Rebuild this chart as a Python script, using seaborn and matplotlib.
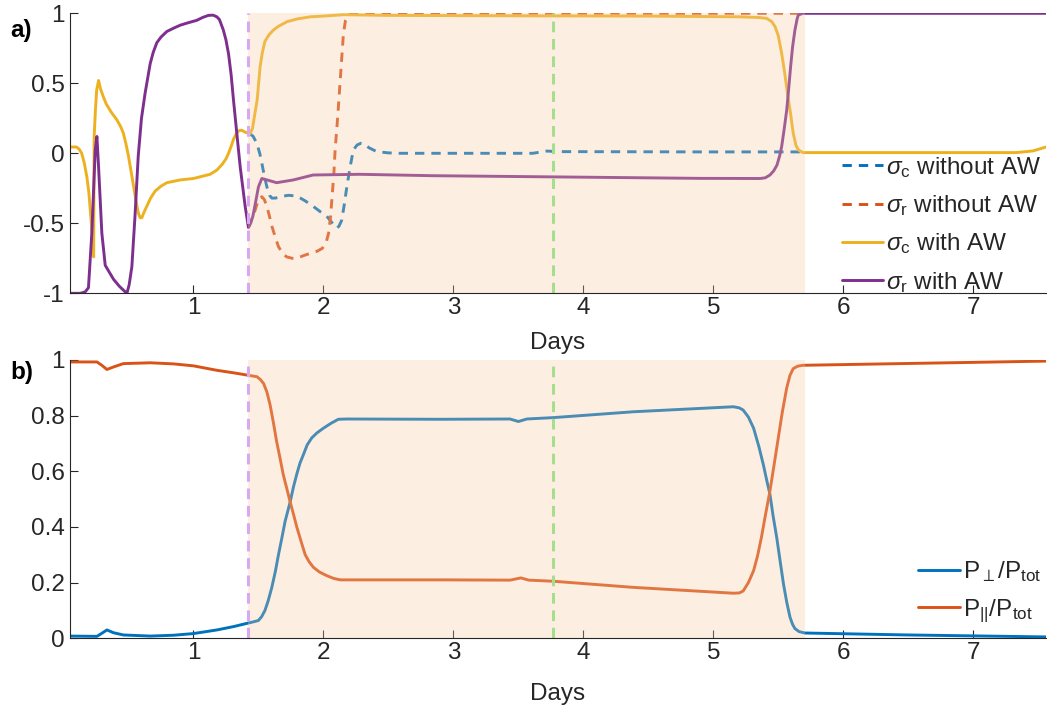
import matplotlib
matplotlib.use("Agg")
import matplotlib.pyplot as plt
import seaborn as sns

# ---------------- data ----------------
# panel a) sigma_c without AW (blue dashed)
sc_noaw_x = [1.436, 1.46, 1.488, 1.51, 1.526, 1.545, 1.565, 1.585, 1.603, 1.63, 1.667, 1.73, 1.795,
             1.86, 1.923, 1.98, 2.026, 2.07, 2.103, 2.12, 2.14, 2.16, 2.18, 2.205, 2.23, 2.26,
             2.29, 2.31, 2.35, 2.41, 2.5, 2.59, 3.61, 3.72, 3.8, 4.9, 5.705]
sc_noaw_y = [0.14, 0.12, 0.07, 0.0, -0.07, -0.16, -0.24, -0.3, -0.32, -0.32, -0.31, -0.3, -0.305,
             -0.34, -0.38, -0.42, -0.45, -0.5, -0.535, -0.52, -0.48, -0.37, -0.24, -0.1, 0.024, 0.06,
             0.072, 0.07, 0.04, 0.012, 0.003, 0.0, 0.0, 0.016, 0.012, 0.01, 0.01]
# sigma_r without AW (orange dashed)
sr_noaw_x = [1.423, 1.45, 1.475, 1.5, 1.526, 1.545, 1.565, 1.585, 1.603, 1.63, 1.654, 1.69, 1.718,
             1.76, 1.795, 1.85, 1.9, 1.95, 1.99, 2.02, 2.04, 2.055, 2.065, 2.08, 2.09, 2.105, 2.115,
             2.135, 2.154, 2.17, 2.19, 2.24, 5.69]
sr_noaw_y = [-0.53, -0.46, -0.405, -0.33, -0.31, -0.33, -0.38, -0.45, -0.52, -0.6, -0.667, -0.72,
             -0.74, -0.75, -0.75, -0.73, -0.714, -0.7, -0.68, -0.64, -0.57, -0.45, -0.33, -0.15,
             0.024, 0.2, 0.33, 0.6, 0.857, 0.95, 0.99, 1.0, 1.0]
# sigma_c with AW (yellow)
sc_aw_x = [0.05, 0.1, 0.12, 0.14, 0.16, 0.18, 0.195, 0.21, 0.225, 0.232, 0.236, 0.245, 0.255, 0.27,
           0.285, 0.308, 0.33, 0.37, 0.41, 0.44, 0.46, 0.48, 0.5, 0.52, 0.54, 0.56, 0.577, 0.59,
           0.603, 0.62, 0.64, 0.67, 0.705, 0.75, 0.795, 0.9, 1.0, 1.128, 1.18, 1.22, 1.25, 1.27,
           1.29, 1.308, 1.33, 1.346, 1.37, 1.4, 1.436, 1.455, 1.47, 1.49, 1.513, 1.53, 1.55, 1.58,
           1.615, 1.65, 1.72, 1.8, 1.9, 2.0, 2.154, 2.5, 3.5, 4.5, 5.2, 5.35, 5.41, 5.45, 5.475,
           5.5, 5.526, 5.55, 5.57, 5.595, 5.615, 5.635, 5.654, 5.69, 7.33, 7.46, 7.56]
sc_aw_y = [0.045, 0.045, 0.03, 0.0, -0.07, -0.17, -0.28, -0.45, -0.62, -0.74, 0.12, 0.3, 0.45, 0.52,
           0.46, 0.4, 0.35, 0.29, 0.24, 0.19, 0.145, 0.07, -0.02, -0.13, -0.24, -0.35, -0.43, -0.46,
           -0.46, -0.42, -0.38, -0.32, -0.27, -0.235, -0.21, -0.19, -0.18, -0.15, -0.12, -0.08,
           -0.04, 0.0, 0.05, 0.1, 0.14, 0.16, 0.165, 0.15, 0.14, 0.18, 0.27, 0.38, 0.62, 0.72, 0.8,
           0.845, 0.88, 0.905, 0.94, 0.96, 0.975, 0.98, 0.99, 0.985, 0.982, 0.98, 0.975, 0.97, 0.964,
           0.94, 0.905, 0.84, 0.714, 0.57, 0.43, 0.28, 0.143, 0.06, 0.024, 0.005, 0.005, 0.017,
           0.045]
# sigma_r with AW (purple)
sr_aw_x = [0.05, 0.13, 0.167, 0.192, 0.218, 0.244, 0.257, 0.27, 0.295, 0.321, 0.385, 0.43, 0.475,
           0.488, 0.505, 0.526, 0.55, 0.575, 0.6, 0.628, 0.667, 0.69, 0.718, 0.75, 0.795, 0.85,
           0.898, 0.95, 1.026, 1.07, 1.115, 1.15, 1.18, 1.2, 1.23, 1.25, 1.27, 1.29, 1.308, 1.336,
           1.36, 1.398, 1.423, 1.44, 1.457, 1.48, 1.5, 1.526, 1.565, 1.64, 1.77, 1.92, 2.28, 2.84,
           3.61, 4.9, 5.36, 5.4, 5.436, 5.465, 5.49, 5.51, 5.526, 5.545, 5.565, 5.58, 5.595, 5.61,
           5.628, 5.645, 5.654, 5.69, 7.56]
sr_aw_y = [-1.0, -1.0, -0.99, -0.96, -0.57, 0.02, 0.12, -0.1, -0.57, -0.8, -0.9, -0.95, -0.99,
           -1.0, -0.94, -0.81, -0.45, -0.02, 0.25, 0.43, 0.64, 0.72, 0.79, 0.83, 0.87, 0.895, 0.915,
           0.93, 0.95, 0.97, 0.985, 0.987, 0.975, 0.955, 0.88, 0.81, 0.71, 0.56, 0.38, 0.12, -0.1,
           -0.38, -0.53, -0.5, -0.45, -0.34, -0.24, -0.18, -0.19, -0.21, -0.19, -0.155, -0.15,
           -0.16, -0.167, -0.179, -0.18, -0.175, -0.155, -0.125, -0.084, -0.02, 0.048, 0.17, 0.31,
           0.46, 0.62, 0.76, 0.88, 0.96, 0.988, 1.0, 1.0]

# panel b) P_perp / P_tot (blue)
pperp_x = [0.05, 0.257, 0.295, 0.334, 0.385, 0.46, 0.667, 0.847, 1.0, 1.18, 1.308, 1.423, 1.46,
           1.5, 1.525, 1.55, 1.575, 1.603, 1.63, 1.654, 1.68, 1.705, 1.744, 1.77, 1.795, 1.82,
           1.846, 1.875, 1.91, 1.95, 2.0, 2.06, 2.115, 2.18, 2.9, 3.436, 3.5, 3.565, 3.77, 4.385,
           5.154, 5.2, 5.23, 5.27, 5.31, 5.35, 5.385, 5.41, 5.436, 5.46, 5.488, 5.515, 5.54, 5.565,
           5.59, 5.61, 5.628, 5.66, 5.705, 6.5, 7.56]
pperp_y = [0.008, 0.007, 0.018, 0.03, 0.02, 0.012, 0.008, 0.011, 0.017, 0.03, 0.042, 0.055, 0.059,
           0.064, 0.078, 0.1, 0.135, 0.183, 0.24, 0.3, 0.36, 0.42, 0.49, 0.545, 0.59, 0.63, 0.66,
           0.695, 0.72, 0.738, 0.755, 0.773, 0.787, 0.788, 0.787, 0.788, 0.779, 0.788, 0.793,
           0.814, 0.832, 0.828, 0.82, 0.795, 0.755, 0.69, 0.624, 0.57, 0.517, 0.44, 0.362, 0.275,
           0.195, 0.13, 0.076, 0.05, 0.035, 0.024, 0.019, 0.012, 0.005]
# P_par / P_tot (orange)
ppar_x = [0.05, 0.257, 0.295, 0.334, 0.385, 0.46, 0.667, 0.847, 1.0, 1.18, 1.308, 1.423, 1.488,
          1.515, 1.54, 1.565, 1.59, 1.615, 1.64, 1.665, 1.69, 1.717, 1.744, 1.77, 1.795, 1.83,
          1.86, 1.89, 1.923, 1.97, 2.026, 2.08, 2.13, 2.9, 3.436, 3.52, 3.58, 3.77, 4.385, 5.154,
          5.2, 5.23, 5.27, 5.31, 5.34, 5.37, 5.4, 5.436, 5.47, 5.5, 5.53, 5.565, 5.59, 5.615, 5.65,
          5.69, 7.56]
ppar_y = [0.993, 0.993, 0.981, 0.966, 0.975, 0.987, 0.99, 0.986, 0.979, 0.963, 0.954, 0.945, 0.94,
          0.93, 0.915, 0.885, 0.838, 0.775, 0.707, 0.65, 0.59, 0.54, 0.49, 0.445, 0.4, 0.345, 0.3,
          0.275, 0.255, 0.238, 0.225, 0.215, 0.21, 0.21, 0.209, 0.217, 0.209, 0.205, 0.183, 0.162,
          0.163, 0.17, 0.2, 0.243, 0.295, 0.362, 0.44, 0.53, 0.63, 0.72, 0.81, 0.9, 0.945, 0.969,
          0.978, 0.981, 0.996]

# event markers
shade_start, shade_end = 1.423, 5.705
vline_purple = 1.423
vline_green = 3.767
x_limits = (0.05, 7.56)

labels_a = [r"$\sigma_\mathrm{c}$ without AW", r"$\sigma_\mathrm{r}$ without AW",
            r"$\sigma_\mathrm{c}$ with AW", r"$\sigma_\mathrm{r}$ with AW"]
labels_b = [r"P$_\perp$/P$_\mathrm{tot}$", r"P$_{||}$/P$_\mathrm{tot}$"]
yticks_a = [-1, -0.5, 0, 0.5, 1]
ytick_labels_a = ["-1", "-0.5", "0", "0.5", "1"]
yticks_b = [0, 0.2, 0.4, 0.6, 0.8, 1]
ytick_labels_b = ["0", "0.2", "0.4", "0.6", "0.8", "1"]
xticks = [1, 2, 3, 4, 5, 6, 7]

# ---------------- style ----------------
sns.set_theme(style="ticks")
plt.rcParams["font.family"] = ["Liberation Sans", "DejaVu Sans"]
plt.rcParams["mathtext.fontset"] = "custom"
plt.rcParams["mathtext.rm"] = "Liberation Sans"
plt.rcParams["mathtext.it"] = "Liberation Sans:italic"
plt.rcParams["mathtext.bf"] = "Liberation Sans:bold"
plt.rcParams["axes.unicode_minus"] = False

C_BLUE = "#0072BD"
C_ORANGE = "#D95319"
C_YELLOW = "#EDB120"
C_PURPLE = "#7E2F8E"
SHADE = (248 / 255, 202 / 255, 162 / 255)
TXT = "#262626"
FS = 17.5
LW = 2.1
DASH = (0, (3.2, 2.4))

fig = plt.figure(figsize=(10.47, 7.15), dpi=100)
ax1 = fig.add_axes([70 / 1047, 1 - 293.3 / 715, 976 / 1047, 280 / 715])
ax2 = fig.add_axes([70 / 1047, 1 - 638.3 / 715, 976 / 1047, 278.3 / 715])

# panel a
sns.lineplot(x=sc_noaw_x, y=sc_noaw_y, ax=ax1, color=C_BLUE, lw=LW, linestyle=DASH,
             sort=False, estimator=None, zorder=2)
sns.lineplot(x=sr_noaw_x, y=sr_noaw_y, ax=ax1, color=C_ORANGE, lw=LW, linestyle=DASH,
             sort=False, estimator=None, zorder=2)
sns.lineplot(x=sc_aw_x, y=sc_aw_y, ax=ax1, color=C_YELLOW, lw=LW,
             sort=False, estimator=None, zorder=2)
sns.lineplot(x=sr_aw_x, y=sr_aw_y, ax=ax1, color=C_PURPLE, lw=LW,
             sort=False, estimator=None, zorder=2)

# panel b
sns.lineplot(x=pperp_x, y=pperp_y, ax=ax2, color=C_BLUE, lw=LW, sort=False, estimator=None, zorder=2)
sns.lineplot(x=ppar_x, y=ppar_y, ax=ax2, color=C_ORANGE, lw=LW, sort=False, estimator=None, zorder=2)

for ax, ylim, lpad in ((ax1, (-1, 1), 9), (ax2, (0, 1), 13)):
    ax.axvspan(shade_start, shade_end, color=SHADE, alpha=0.3, lw=0, zorder=3)
    ax.axvline(vline_purple, color="#D9A9EF", lw=2.2, linestyle=(0, (3.5, 2.2)), zorder=4)
    ax.axvline(vline_green, color="#A5DF8E", lw=2.2, linestyle=(0, (3.5, 2.2)), zorder=4)
    ax.set_xlim(*x_limits)
    ax.set_ylim(*ylim)
    ax.set_xticks(xticks)
    ax.set_xticklabels([str(t) for t in xticks])
    ax.set_xlabel("Days", fontsize=FS, color=TXT, labelpad=lpad)
    ax.set_ylabel("")
    ax.tick_params(direction="in", length=6, width=0.8, colors=TXT, labelsize=FS, pad=4)
    ax.tick_params(axis="x", pad=3)
    for s in ("top", "right"):
        ax.spines[s].set_visible(False)
    for s in ("left", "bottom"):
        ax.spines[s].set_color(TXT)
        ax.spines[s].set_linewidth(0.8)
        ax.spines[s].set_zorder(5)
    ax.set_facecolor("white")

ax1.set_yticks(yticks_a)
ax1.set_yticklabels(ytick_labels_a)
ax2.set_yticks(yticks_b)
ax2.set_yticklabels(ytick_labels_b)

h1 = ax1.get_lines()[:4]
leg1 = ax1.legend(h1, labels_a, loc="lower right", bbox_to_anchor=(1.0, -0.022), frameon=False,
                  fontsize=FS, handlelength=1.7, handletextpad=0.12, labelspacing=0.55,
                  borderaxespad=0.1, borderpad=0.1)
for t in leg1.get_texts():
    t.set_color(TXT)
leg1.set_zorder(6)

h2 = ax2.get_lines()[:2]
leg2 = ax2.legend(h2, labels_b, loc="lower right", bbox_to_anchor=(1.0, 0.031), frameon=False,
                  fontsize=FS, handlelength=1.7, handletextpad=0.12, labelspacing=0.55,
                  borderaxespad=0.1, borderpad=0.1)
for t in leg2.get_texts():
    t.set_color(TXT)
leg2.set_zorder(6)

fig.text(10 / 1047, 1 - 30 / 715, "a)", fontsize=FS, fontweight="bold", color="black",
         ha="left", va="center")
fig.text(10 / 1047, 1 - 372 / 715, "b)", fontsize=FS, fontweight="bold", color="black",
         ha="left", va="center")

fig.savefig("out.png", dpi=100, facecolor="white")
